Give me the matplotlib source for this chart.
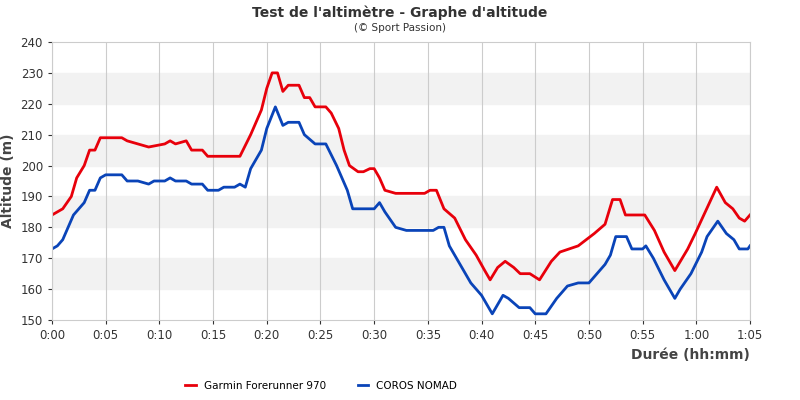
import matplotlib.pyplot as plt
from matplotlib.ticker import MultipleLocator, FuncFormatter

# minutes, altitude (m)
garmin_t = [0, 0.5, 1, 1.8, 2.3, 3, 3.5, 4, 4.5, 6.5, 7, 8, 9, 10.5, 11, 11.5, 12.5, 13, 14, 14.5,
            17.5, 18.5, 19.5, 20, 20.5, 21, 21.5, 22, 23, 23.5, 24, 24.5, 25.5, 26, 26.7, 27.2, 27.7,
            28.5, 29, 29.6, 30, 30.5, 31, 32, 34.7, 35.2, 35.8, 36.5, 37.5, 38.5, 39.5, 40.3, 40.8,
            41.5, 42.2, 43, 43.6, 44.5, 45.4, 46.5, 47.3, 49, 50.5, 51.5, 52.2, 52.9, 53.4, 55.2,
            56.1, 57, 58, 59.2, 59.9, 61.1, 61.9, 62.7, 63.4, 64, 64.5, 65]
garmin_alt = [184, 185, 186, 190, 196, 200, 205, 205, 209, 209, 208, 207, 206, 207, 208, 207, 208, 205, 205, 203,
              203, 210, 218, 225, 230, 230, 224, 226, 226, 222, 222, 219, 219, 217, 212, 205, 200,
              198, 198, 199, 199, 196, 192, 191, 191, 192, 192, 186, 183, 176, 171, 166, 163,
              167, 169, 167, 165, 165, 163, 169, 172, 174, 178, 181, 189, 189, 184, 184,
              179, 172, 166, 173, 178, 187, 193, 188, 186, 183, 182, 184]

coros_t = [0, 0.5, 1, 1.5, 2, 3, 3.5, 4, 4.5, 5, 6.5, 7, 8, 9, 9.5, 10.5, 11, 11.5, 12.5, 13, 14, 14.5,
           15.5, 16, 17, 17.5, 18, 18.5, 19.5, 20, 20.8, 21.5, 22, 23, 23.5, 24.5, 25.5, 26.5, 27.5,
           28, 30, 30.5, 31, 32, 33, 35.5, 36, 36.5, 37, 38, 39, 40, 41, 42, 42.5, 43.5, 44.5, 45,
           46, 47, 48, 49, 50, 50.5, 51.5, 52, 52.5, 53.5, 54, 55, 55.3, 56, 57, 58, 58.5, 59.5,
           60.5, 61, 62, 62.8, 63.5, 64, 64.8, 65]
coros_alt = [173, 174, 176, 180, 184, 188, 192, 192, 196, 197, 197, 195, 195, 194, 195, 195, 196, 195, 195, 194, 194, 192,
             192, 193, 193, 194, 193, 199, 205, 212, 219, 213, 214, 214, 210, 207, 207, 200, 192,
             186, 186, 188, 185, 180, 179, 179, 180, 180, 174, 168, 162, 158, 152, 158, 157, 154, 154, 152,
             152, 157, 161, 162, 162, 164, 168, 171, 177, 177, 173, 173, 174, 170, 163, 157, 160, 165,
             172, 177, 182, 178, 176, 173, 173, 174]

fig = plt.figure(figsize=(8, 4), dpi=100)
ax = fig.add_axes([0.065, 0.2, 0.8725, 0.695])

for lo in (160, 180, 200, 220):
    ax.axhspan(lo, lo + 10, color='#f2f2f2', zorder=0)

ax.plot(garmin_t, garmin_alt, color='#e8000b', lw=2, label='Garmin Forerunner 970')
ax.plot(coros_t, coros_alt, color='#0a44b8', lw=2, label='COROS NOMAD')

ax.set_xlim(0, 65)
ax.set_ylim(150, 240)
ax.xaxis.set_major_locator(MultipleLocator(5))
ax.yaxis.set_major_locator(MultipleLocator(10))
ax.xaxis.set_major_formatter(FuncFormatter(lambda v, p: f"{int(v)//60}:{int(v)%60:02d}"))
ax.grid(axis='x', color='#cccccc', lw=0.8)
ax.set_axisbelow(True)
for s in ax.spines.values():
    s.set_color('#cccccc')
ax.tick_params(labelsize=8.5, colors='#333333', length=3)

ax.set_ylabel('Altitude (m)', fontsize=10, fontweight='bold', color='#444444')
ax.set_xlabel('Durée (hh:mm)', fontsize=10, fontweight='bold', color='#444444', loc='right', labelpad=4)

fig.text(0.5, 0.985, "Test de l'altimètre - Graphe d'altitude", ha='center', va='top',
         fontsize=10, fontweight='bold', color='#333333')
fig.text(0.5, 0.942, "(© Sport Passion)", ha='center', va='top', fontsize=7.5, color='#333333')

fig.legend(loc='lower left', bbox_to_anchor=(0.22, 0.0), ncol=2, frameon=False, fontsize=7.5,
           handlelength=1, columnspacing=3)

fig.savefig('out.png', dpi=100)
